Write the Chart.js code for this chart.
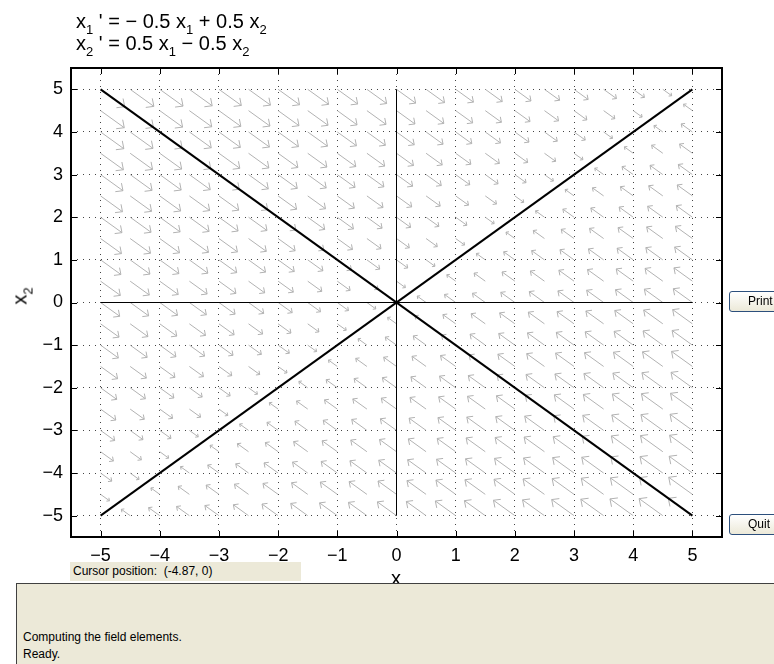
<!DOCTYPE html>
<html>
<head>
<meta charset="utf-8">
<script src="https://cdn.jsdelivr.net/npm/chart.js@4.4.0/dist/chart.umd.min.js"></script>
<style>
  body { margin: 0; background: #fff; width: 774px; height: 664px; overflow: hidden; position: relative;
         font-family: "Liberation Sans", Arial, sans-serif; }
  #plot { position: absolute; left: 0; top: 0; }
  .eq { position: absolute; left: 76px; font-size: 20px; line-height: 20px; white-space: pre; color: #000; }
  .eq sub { font-size: 13px; vertical-align: -6px; line-height: 0; }
  #ylab { position: absolute; left: 20px; top: 296px; font-size: 20px; white-space: pre;
          transform: translate(-50%, -50%) rotate(-90deg); }
  #ylab sub { font-size: 13px; vertical-align: -6px; line-height: 0; }
  #xlab { position: absolute; left: 391px; top: 568px; font-size: 20px; line-height: 20px; }
  .btn { position: absolute; left: 729px; width: 60px; height: 21px; box-sizing: border-box;
         border: 1px solid #2c4f7c; border-radius: 3px; background: linear-gradient(#ffffff, #ece9d8);
         font-size: 12px; line-height: 19px; padding-left: 18px; }
  #cursor { position: absolute; left: 70px; top: 562px; width: 231px; height: 19px; background: #ece9d8;
            font-size: 12px; line-height: 19px; padding-left: 3px; box-sizing: border-box; white-space: pre; }
  #status { position: absolute; left: 16px; top: 583px; width: 770px; height: 81px; background: #ece9d8;
            border-top: 1px solid #404040; border-left: 1px solid #404040; box-sizing: border-box;
            font-size: 12px; line-height: 17px; padding: 45px 0 0 6px; }
</style>
</head>
<body>
<canvas id="plot" width="774" height="664"></canvas>
<div class="eq" style="top:11px">x<sub>1</sub> ' = − 0.5 x<sub>1</sub> + 0.5 x<sub>2</sub></div>
<div class="eq" style="top:33px">x<sub>2</sub> ' = 0.5 x<sub>1</sub> − 0.5 x<sub>2</sub></div>
<div id="ylab">x<sub>2</sub></div>
<div id="xlab">x</div>
<div class="btn" style="top:291px">Print</div>
<div class="btn" style="top:514px">Quit</div>
<div id="cursor">Cursor position:  (-4.87, 0)</div>
<div id="status">Computing the field elements.<br>Ready.</div>
<script>
const xTicks = [-5, -4, -3, -2, -1, 0, 1, 2, 3, 4, 5];
const yTicks = [-5, -4, -3, -2, -1, 0, 1, 2, 3, 4, 5];

// points where field arrows start
const fieldX = [-5, -4.5, -4, -3.5, -3, -2.5, -2, -1.5, -1, -0.5, 0, 0.5, 1, 1.5, 2, 2.5, 3, 3.5, 4, 4.5, 5];
const fieldY = [-5, -4.5, -4, -3.5, -3, -2.5, -2, -1.5, -1, -0.5, 0, 0.5, 1, 1.5, 2, 2.5, 3, 3.5, 4, 4.5, 5];

// x1' = a11 x1 + a12 x2,  x2' = a21 x1 + a22 x2
const rowX1 = [-0.5, 0.5];
const rowX2 = [0.5, -0.5];

// straight-line solutions and the axes through the equilibrium
const lineUpX = [-5, 5],   lineUpY = [-5, 5];
const lineDownX = [-5, 5], lineDownY = [5, -5];
const axisHX = [-5, 5],    axisHY = [0, 0];
const axisVX = [0, 0],     axisVY = [-5, 5];

function pts(xs, ys) {
    return xs.map((v, i) => ({x: v, y: ys[i]}));
}

function fmt(v) {
    return v < 0 ? '\u2212' + Math.abs(v) : String(v);
}

const fieldArrows = {
    id: 'fieldArrows',
    beforeDatasetsDraw(chart) {
        const {ctx, chartArea: a, scales: {x, y}} = chart;
        ctx.save();
        ctx.beginPath();
        ctx.rect(a.left, a.top, a.width, a.height);
        ctx.clip();
        ctx.strokeStyle = '#b2b2b2';
        ctx.lineWidth = 1;
        for (const px of fieldX) {
            for (const py of fieldY) {
                const vx = rowX1[0] * px + rowX1[1] * py;
                const vy = rowX2[0] * px + rowX2[1] * py;
                const m = Math.hypot(vx, vy);
                if (m < 1e-9) continue;
                // length grows with the cube root of the speed
                const k = 0.3 / Math.pow(m, 2 / 3);
                const x0 = x.getPixelForValue(px), y0 = y.getPixelForValue(py);
                const x1 = x.getPixelForValue(px + vx * k), y1 = y.getPixelForValue(py + vy * k);
                const ang = Math.atan2(y1 - y0, x1 - x0);
                const len = Math.hypot(x1 - x0, y1 - y0);
                const h = Math.max(3, len * 0.28);
                ctx.beginPath();
                ctx.moveTo(x0, y0);
                ctx.lineTo(x1, y1);
                ctx.moveTo(x1 - h * Math.cos(ang - 0.75), y1 - h * Math.sin(ang - 0.75));
                ctx.lineTo(x1, y1);
                ctx.lineTo(x1 - h * Math.cos(ang + 0.75), y1 - h * Math.sin(ang + 0.75));
                ctx.stroke();
            }
        }
        ctx.restore();
    }
};

// box around the plot with ticks pointing inward
const frame = {
    id: 'frame',
    afterDraw(chart) {
        const {ctx, chartArea: a, scales: {x, y}} = chart;
        ctx.save();
        ctx.strokeStyle = '#000';
        ctx.lineWidth = 1;
        ctx.beginPath();
        for (const v of xTicks) {
            const p = Math.round(x.getPixelForValue(v)) + 0.5;
            ctx.moveTo(p, a.top); ctx.lineTo(p, a.top + 6);
            ctx.moveTo(p, a.bottom); ctx.lineTo(p, a.bottom - 6);
        }
        for (const v of yTicks) {
            const p = Math.round(y.getPixelForValue(v)) + 0.5;
            ctx.moveTo(a.left, p); ctx.lineTo(a.left + 6, p);
            ctx.moveTo(a.right, p); ctx.lineTo(a.right - 6, p);
        }
        ctx.stroke();
        ctx.lineWidth = 2;
        ctx.strokeRect(a.left, a.top, a.width, a.height);
        ctx.restore();
    }
};

const tickFont = {family: 'Liberation Sans', size: 18};

new Chart(document.getElementById('plot').getContext('2d'), {
    type: 'scatter',
    data: {
        datasets: [
            {data: pts(axisHX, axisHY), borderColor: '#000', borderWidth: 1},
            {data: pts(axisVX, axisVY), borderColor: '#000', borderWidth: 1},
            {data: pts(lineUpX, lineUpY), borderColor: '#000', borderWidth: 2},
            {data: pts(lineDownX, lineDownY), borderColor: '#000', borderWidth: 2}
        ].map(d => Object.assign(d, {showLine: true, pointRadius: 0, fill: false}))
    },
    options: {
        responsive: false,
        animation: false,
        layout: {padding: {left: 0, top: 68, right: 52, bottom: 0}},
        plugins: {legend: {display: false}, tooltip: {enabled: false}},
        scales: {
            x: {
                type: 'linear', min: -5.5, max: 5.5,
                afterBuildTicks: s => { s.ticks = xTicks.map(v => ({value: v})); },
                afterFit: s => { s.height = 127; },
                grid: {color: '#444', lineWidth: 1, drawTicks: false},
                border: {display: false, dash: [1, 5]},
                ticks: {color: '#000', font: tickFont, padding: 8, maxRotation: 0, autoSkip: false, callback: fmt}
            },
            y: {
                type: 'linear', min: -5.5, max: 5.5,
                afterBuildTicks: s => { s.ticks = yTicks.map(v => ({value: v})); },
                afterFit: s => { s.width = 71; },
                grid: {color: '#444', lineWidth: 1, drawTicks: false},
                border: {display: false, dash: [1, 5]},
                ticks: {color: '#000', font: tickFont, padding: 8, autoSkip: false, callback: fmt}
            }
        }
    },
    plugins: [fieldArrows, frame]
});
</script>
</body>
</html>
